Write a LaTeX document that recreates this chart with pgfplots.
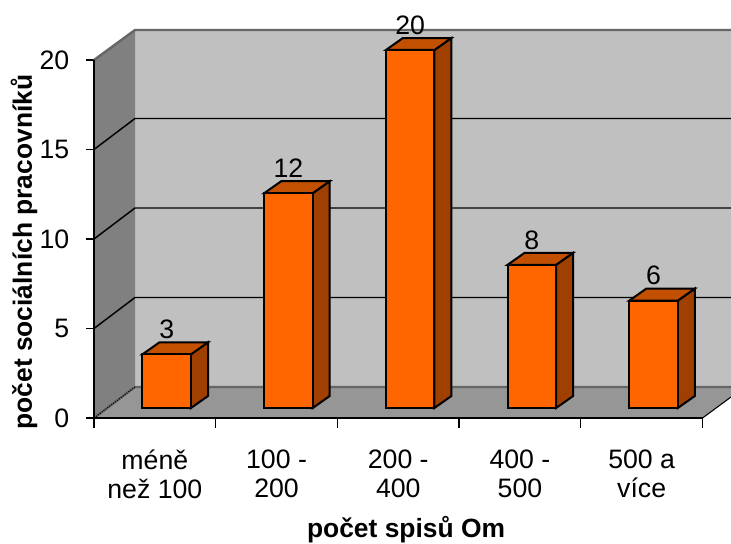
\documentclass[border=0pt]{standalone}
\usepackage{fontspec}
\setmainfont{Liberation Sans}
\usepackage{pgfplots}
\pgfplotsset{compat=1.18}
\definecolor{wallback}{HTML}{C0C0C0}
\definecolor{wallleft}{HTML}{808080}
\definecolor{floorc}{HTML}{969696}
\definecolor{edgec}{HTML}{666666}
\definecolor{barfront}{HTML}{FF6600}
\definecolor{bartop}{HTML}{C25000}
\definecolor{barside}{HTML}{A04000}
\pgfplotsset{
  barface/.style={draw=black,line width=1.5pt,line join=miter},
}
% one 3-D column: #1 category index, #2 value
\newcommand{\threedbar}[2]{%
  \pgfmathsetmacro\xa{#1-0.1015}%
  \pgfmathsetmacro\xb{#1+0.297}%
  \pgfmathsetmacro\xc{#1+0.297+0.1397}%
  \pgfmathsetmacro\xd{#1-0.1015+0.1397}%
  \pgfmathsetmacro\ya{0.559}%
  \pgfmathsetmacro\yb{#2+0.559}%
  \pgfmathsetmacro\yc{0.559+0.67}%
  \pgfmathsetmacro\yd{#2+0.559+0.67}%
  \edef\temp{%
    \noexpand\addplot[barface,fill=barside] coordinates {(\xb,\ya) (\xc,\yc) (\xc,\yd) (\xb,\yb)} -- cycle;
    \noexpand\addplot[barface,fill=bartop] coordinates {(\xa,\yb) (\xd,\yd) (\xc,\yd) (\xb,\yb)} -- cycle;
    \noexpand\addplot[barface,fill=barfront] coordinates {(\xa,\ya) (\xb,\ya) (\xb,\yb) (\xa,\yb)} -- cycle;
  }\temp
}
\begin{document}
\begin{tikzpicture}
\path[use as bounding box] (-70.5pt,-93.75pt) rectangle (477.75pt,313.5pt);
\begin{axis}[
  scale only axis,
  width=477.75pt,
  height=291pt,
  xmin=-0.5, xmax=4.734,
  ymin=0, ymax=21.676,
  clip=false,
  axis x line*=bottom,
  axis y line*=left,
  axis line style={draw=none},
  tick align=outside,
  tick style={black,line width=1pt},
  x tick style={draw=none},
  major tick length=6pt,
  xtick={-0.5,0.5,1.5,2.5,3.5,4.5},
  x tick label as interval,
  xticklabels={méně\\než 100,100 -\\200,200 -\\400,400 -\\500,500 a\\více},
  ytick={0,5,10,15,20},
  /pgf/number format/assume math mode=true,
  tick label style={font=\fontsize{20}{22.2}\selectfont},
  xticklabel style={align=center,yshift=-14pt},
  yticklabel style={xshift=-9pt},
  every axis x label/.style={at={(axis cs:2.064,-6.257)},anchor=center},
  every axis y label/.style={at={(axis cs:-1.075,9.27)},anchor=center,rotate=90},
  xlabel={\fontsize{19.8}{22}\selectfont\bfseries počet spisů Om},
  ylabel={\fontsize{19.8}{22}\selectfont\bfseries počet sociálních pracovníků},
]
% walls and floor
\addplot[draw=none,fill=wallback] coordinates {(-0.1631,1.732) (4.734,1.732) (4.734,21.676) (-0.1631,21.676)} -- cycle;
\addplot[draw=none,fill=wallleft] coordinates {(-0.5,0) (-0.1631,1.732) (-0.1631,21.676) (-0.5,20)} -- cycle;
\addplot[draw=none,fill=floorc] coordinates {(-0.5,0) (-0.1631,1.732) (4.734,1.732) (4.734,1.173) (4.5,0)} -- cycle;
% gridlines
\addplot[black,line width=1.1pt] coordinates {(-0.5,5) (-0.1631,6.732) (4.734,6.732)};
\addplot[black,line width=1.1pt] coordinates {(-0.5,10) (-0.1631,11.732) (4.734,11.732)};
\addplot[black,line width=1.1pt] coordinates {(-0.5,15) (-0.1631,16.732) (4.734,16.732)};
\addplot[edgec,line width=1.8pt] coordinates {(-0.5,20) (-0.1631,21.676) (4.734,21.676)};
\addplot[edgec,line width=1.8pt] coordinates {(-0.5,0) (-0.1631,1.732) (4.734,1.732)};
\addplot[black,line width=0.8pt,densely dotted] coordinates {(-0.5,0) (-0.1631,1.732)};
\addplot[black,line width=0.8pt] coordinates {(4.5,0) (4.734,1.173)};
% axis lines and category ticks
\addplot[black,line width=1.2pt] coordinates {(-0.5,20) (-0.5,0) (4.5,0)};
\addplot[ycomb,black,line width=1pt,mark=none] coordinates {(-0.5,-0.56) (0.5,-0.56) (1.5,-0.56) (2.5,-0.56) (3.5,-0.56) (4.5,-0.56)};
% columns
\threedbar{0}{3}
\threedbar{1}{12}
\threedbar{2}{20}
\threedbar{3}{8}
\threedbar{4}{6}
% value labels
\addplot[draw=none,mark=none,point meta=explicit,
  nodes near coords,
  every node near coord/.append style={anchor=center,font=\fontsize{20}{22}\selectfont,text=black}]
  table[x=x,y=y,meta=v] {
  x y v
  0.0975 4.95 3
  1.0975 13.95 12
  2.0975 21.95 20
  3.0975 9.95 8
  4.0975 7.95 6
};
\end{axis}
\end{tikzpicture}
\end{document}
